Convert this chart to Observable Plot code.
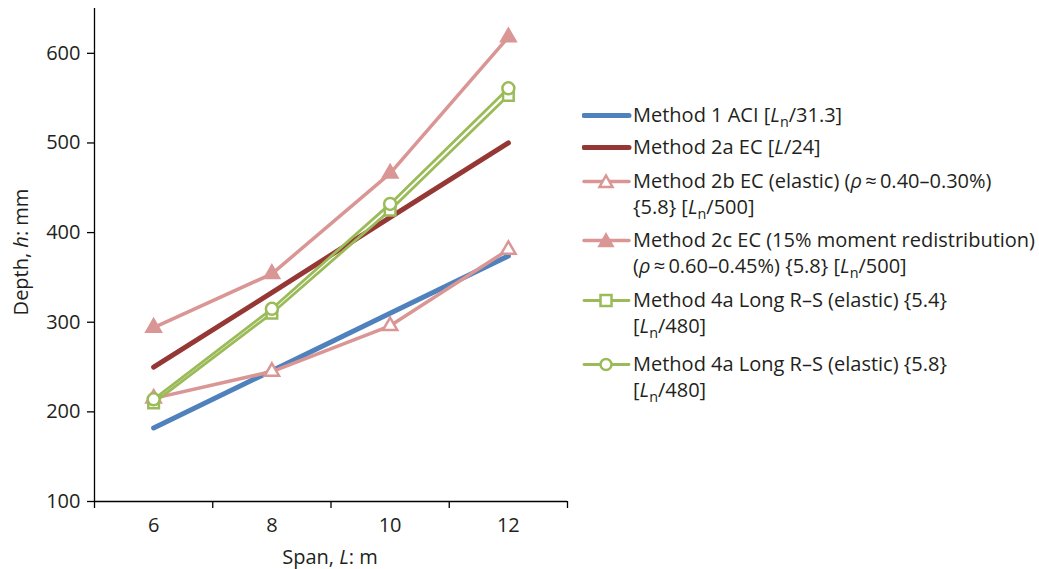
<!DOCTYPE html>
<html><head><meta charset="utf-8">
<script src="https://cdn.jsdelivr.net/npm/d3@7"></script>
<script src="https://cdn.jsdelivr.net/npm/@observablehq/plot@0.6"></script>
<style>
body{margin:0;background:#fff;font-family:"Open Sans",sans-serif;color:#231f20}
#wrap{position:relative;width:1039px;height:569px;overflow:hidden}
#chart{position:absolute;left:0;top:0}
.ttl{position:absolute;font-size:20px;white-space:nowrap}
#ylab{left:20px;top:252px;transform:translate(-50%,-50%) rotate(-90deg)}
#xlab{left:330px;top:556px;transform:translate(-50%,-50%)}
.leg{position:absolute;left:582px;font-size:20px;line-height:26.5px;white-space:nowrap}
.leg svg{position:absolute;left:0;top:0}
.leg .t{position:absolute;left:51px;top:0}
sub{font-size:0.72em;line-height:0;vertical-align:-0.32em}
</style></head><body><div id="wrap"><div id="chart"></div>
<div class="ttl" id="ylab">Depth, <i>h</i>: mm</div>
<div class="ttl" id="xlab">Span, <i>L</i>: m</div>
<div id="legend"></div>
</div>
<script>
const spans = [6, 8, 10, 12];
const method1 = [182, 246, 310, 374];
const method2a = [250, 333, 417, 500];
const method2b = [215, 245, 296, 381];
const method2c = [294, 354, 466, 618];
const method4a54 = [210, 310, 425, 553];
const method4a58 = [214, 315, 432, 561];
const yTicks = [100, 200, 300, 400, 500, 600];
const xLabelTicks = [6, 8, 10, 12];
const xTickMarks = [5, 7, 9, 11, 13];
const legendLabels = [
  'Method 1 ACI [<i>L</i><sub>n</sub>/31.3]',
  'Method 2a EC [<i>L</i>/24]',
  'Method 2b EC (elastic) (<i>ρ</i>\u2009≈\u20090.40–0.30%)<br>{5.8} [<i>L</i><sub>n</sub>/500]',
  'Method 2c EC (15% moment redistribution)<br>(<i>ρ</i>\u2009≈\u20090.60–0.45%) {5.8} [<i>L</i><sub>n</sub>/500]',
  'Method 4a Long R–S (elastic) {5.4}<br>[<i>L</i><sub>n</sub>/480]',
  'Method 4a Long R–S (elastic) {5.8}<br>[<i>L</i><sub>n</sub>/480]'
];

const series = [
  {values: method1, color: "#4f81bd", w: 5, symbol: null},
  {values: method2a, color: "#953735", w: 5, symbol: null},
  {values: method2b, color: "#d99694", w: 3.5, symbol: "triangle", fill: "white", r: 5.3},
  {values: method2c, color: "#d99694", w: 3.5, symbol: "triangle", fill: "#d99694", r: 5.3},
  {values: method4a54, color: "#9bbb59", w: 2.8, symbol: "square", fill: "white", r: 6},
  {values: method4a58, color: "#9bbb59", w: 2.8, symbol: "circle", fill: "white", r: 6}
];

const marks = [];
series.forEach(s => {
  const rows = s.values.map((v, i) => ({x: spans[i], y: v}));
  marks.push(Plot.line(rows, {x: "x", y: "y", stroke: s.color, strokeWidth: s.w, strokeLinecap: "round", strokeLinejoin: "round"}));
  if (s.symbol) marks.push(Plot.dot(rows, {x: "x", y: "y", symbol: s.symbol, r: s.r, fill: s.fill, stroke: s.color, strokeWidth: 2.5}));
});

const plot = Plot.plot({
  width: 1039, height: 569,
  marginLeft: 94, marginRight: 472, marginTop: 8, marginBottom: 68,
  style: {fontFamily: "'Open Sans', sans-serif", fontSize: "20px", color: "#231f20", background: "white"},
  x: {type: "linear", domain: [5, 13]},
  y: {domain: [100, 650]},
  marks: [
    Plot.axisY(yTicks, {tickSize: 7, tickPadding: 7, label: null, stroke: "#000", strokeWidth: 1.3, fontSize: 20}),
    Plot.axisX(xTickMarks, {tickSize: 7, tickFormat: () => "", label: null, stroke: "#000", strokeWidth: 1.3}),
    Plot.axisX(xLabelTicks, {tickSize: 0, tickPadding: 16, label: null, fontSize: 20}),
    ...marks,
    Plot.ruleX([5], {stroke: "#000", strokeWidth: 1.3}),
    Plot.ruleY([100], {stroke: "#000", strokeWidth: 1.3})
  ]
});
document.getElementById("chart").appendChild(plot);

const legTops = [115, 147, 181, 240, 300, 364];
const leg = document.getElementById("legend");
series.forEach((s, i) => {
  const d = document.createElement("div");
  d.className = "leg";
  d.style.top = (legTops[i] - 13.25) + "px";
  let sym = "";
  if (s.symbol === "triangle") sym = `<path d="M24,7.5 L30.5,19 L17.5,19 Z" fill="${s.fill}" stroke="${s.color}" stroke-width="2.5"/>`;
  if (s.symbol === "square") sym = `<rect x="18.5" y="8" width="11" height="11" fill="white" stroke="${s.color}" stroke-width="2.5"/>`;
  if (s.symbol === "circle") sym = `<circle cx="24" cy="13.5" r="5.5" fill="white" stroke="${s.color}" stroke-width="2.5"/>`;
  d.innerHTML = `<svg width="50" height="27"><line x1="2" x2="47" y1="13.5" y2="13.5" stroke="${s.color}" stroke-width="${s.w}" stroke-linecap="round"/>${sym}</svg><div class="t">${legendLabels[i]}</div>`;
  leg.appendChild(d);
});
</script></body></html>
